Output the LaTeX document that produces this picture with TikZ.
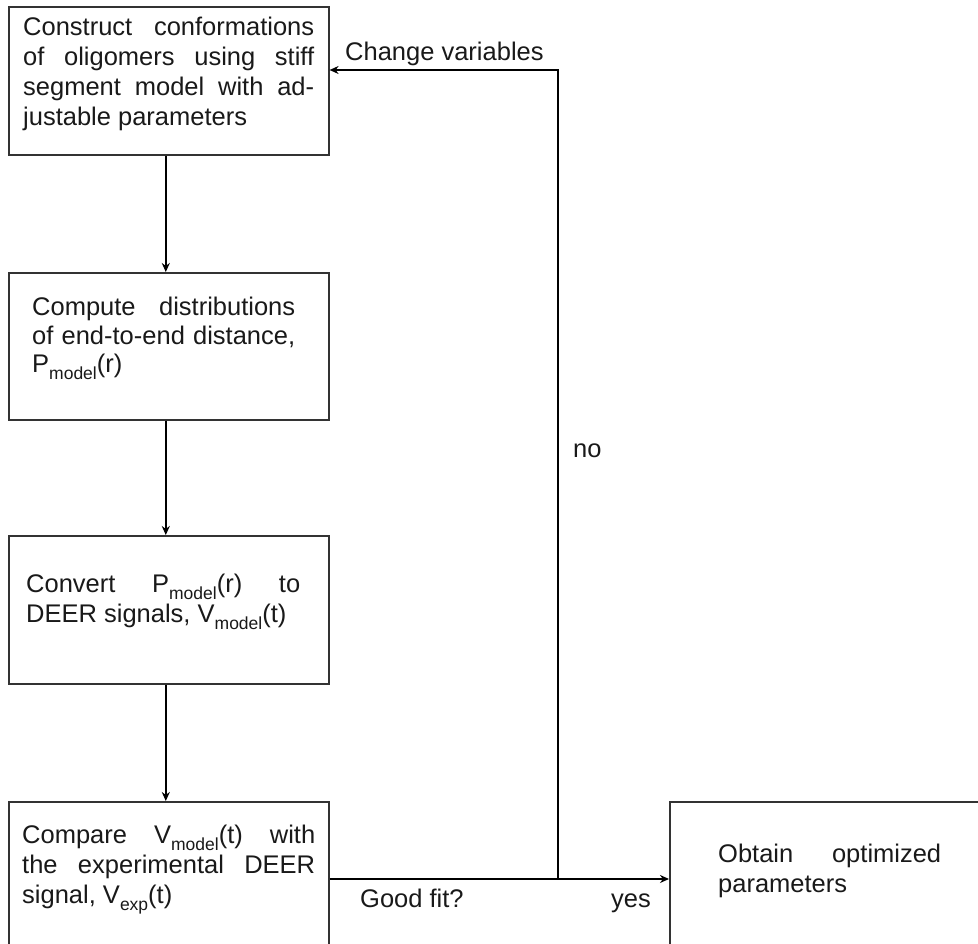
\documentclass[tikz,border=0pt]{standalone}
\usepackage{fontspec}
\setmainfont{Liberation Sans}
\usetikzlibrary{arrows.meta}
\newcommand{\sbs}[1]{\raisebox{-7pt}{\fontsize{17.5}{17.5}\selectfont #1}}
\newcommand{\tline}[1]{\hbox to \hsize{#1}}
\newcommand{\tlast}[1]{\hbox{#1}}
\begin{document}
\begin{tikzpicture}[x=1pt,y=-1pt,
  box/.style={draw=black!80, line width=1.6pt, rectangle, anchor=north west, inner sep=0pt},
  arr/.style={draw=black, line width=2.2pt, -{Stealth[length=9pt,width=8pt]}},
  txt/.style={anchor=base west, inner sep=0pt, text=black!90, font=\fontsize{25.5}{30}\selectfont},
  lbl/.style={anchor=base west, inner sep=0pt, text=black!90, font=\fontsize{25.5}{30}\selectfont}]
\useasboundingbox (0,0) rectangle (978,944);
\clip (0,0) rectangle (978,944);

% boxes
\node[box, minimum width=320pt, minimum height=148pt] (b1) at (8,6) {};
\node[box, minimum width=320pt, minimum height=147pt] (b2) at (8,272) {};
\node[box, minimum width=320pt, minimum height=148pt] (b3) at (8,535) {};
\node[box, minimum width=320pt, minimum height=220pt] (b4) at (8,801) {};
\node[box, minimum width=420pt, minimum height=220pt] (b5) at (669,801) {};

% texts
\node[txt] (t1) at (23,36) {\vtop{\hsize=291pt\baselineskip=30pt\lineskiplimit=-100pt
  \tline{Construct\hfill conformations}
  \tline{of\hfill oligomers\hfill using\hfill stiff}
  \tline{segment\hfill model\hfill with\hfill ad-}
  \tlast{justable parameters}}};
\node[txt] (t2) at (32,316) {\vtop{\hsize=263pt\baselineskip=28.5pt\lineskiplimit=-100pt
  \tline{Compute\hfill distributions}
  \tline{of\hfill end-to-end\hfill distance,}
  \tlast{P\sbs{model}(r)}}};
\node[txt] (t3) at (26,592) {\vtop{\hsize=274pt\baselineskip=30pt\lineskiplimit=-100pt
  \tline{Convert\hfill P\sbs{model}(r)\hfill to}
  \tlast{DEER signals, V\sbs{model}(t)}}};
\node[txt] (t4) at (22,843) {\vtop{\hsize=293pt\baselineskip=30pt\lineskiplimit=-100pt
  \tline{Compare\hfill V\sbs{model}(t)\hfill with}
  \tline{the\hfill experimental\hfill DEER}
  \tlast{signal, V\sbs{exp}(t)}}};
\node[txt] (t5) at (718,862) {\vtop{\hsize=223pt\baselineskip=30pt\lineskiplimit=-100pt
  \tline{Obtain\hfill optimized}
  \tlast{parameters}}};

% labels
\node[lbl] (lcv) at (345,61) {Change variables};
\node[lbl] (lno) at (573,457) {no};
\node[lbl] (lgf) at (360,907) {Good fit?};
\node[lbl] (lyes) at (611,907) {yes};

% connectors
\draw[arr] ([xshift=-3pt]b1.south) -- ([xshift=-3pt]b2.north);
\draw[arr] ([xshift=-3pt]b2.south) -- ([xshift=-3pt]b3.north);
\draw[arr] ([xshift=-3pt]b3.south) -- ([xshift=-3pt]b4.north);
\coordinate (fit) at (558,879);
\coordinate (cv) at (558,70);
\draw[arr] (b4.east |- fit) -- (b5.west |- fit);
\draw[arr] (fit) -- (cv) -- (b1.east |- cv);
\end{tikzpicture}
\end{document}
